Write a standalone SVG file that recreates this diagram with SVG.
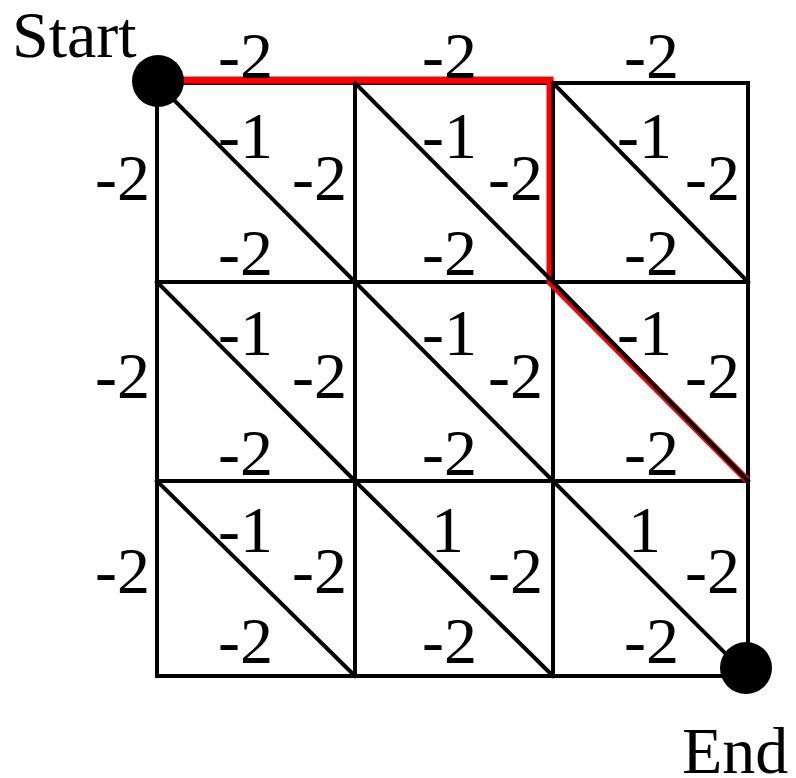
<svg xmlns="http://www.w3.org/2000/svg" width="796" height="778" viewBox="0 0 796 778">
<style>
.g{stroke:#000;stroke-width:4;fill:none;stroke-linecap:square}
.r{stroke:#f00;stroke-width:7;fill:none;stroke-linejoin:miter}
text{font-family:"Liberation Serif","Times New Roman",serif;font-size:66px;fill:#000}
</style>
<rect width="796" height="778" fill="#fff"/>
<g id="connectors">
<g id="grid">
<path class="g" d="M157 83H748V676H157Z M355 83V676 M553 83V676 M157 282H748 M157 481H748"/>
</g>
<polyline id="path" class="r" points="175,80 550,80 550,282 747,480"/>
<g id="diagonals">
<path class="g" d="M157 83L355 282M355 83L553 282M553 83L748 282M157 282L355 481M355 282L553 481M553 282L748 481M157 481L355 676M355 481L553 676M553 481L748 676"/>
<path class="g" d="M553 83V282"/>
</g>
</g>
<g id="start"><circle cx="158" cy="81" r="26"/><text x="12" y="57">Start</text></g>
<g id="end"><circle cx="746" cy="668" r="26"/><text x="682" y="773">End</text></g>
<g id="labels">
<text x="218" y="78">-2</text><text x="422" y="78">-2</text><text x="624" y="78">-2</text>
<text x="95" y="200">-2</text><text x="95" y="398">-2</text><text x="95" y="593">-2</text>
<text x="218" y="158">-1</text><text x="422" y="158">-1</text><text x="617" y="158">-1</text>
<text x="292" y="200">-2</text><text x="488" y="200">-2</text><text x="685" y="200">-2</text>
<text x="218" y="275">-2</text><text x="422" y="275">-2</text><text x="624" y="275">-2</text>
<text x="218" y="355">-1</text><text x="422" y="355">-1</text><text x="617" y="355">-1</text>
<text x="292" y="398">-2</text><text x="488" y="398">-2</text><text x="685" y="398">-2</text>
<text x="218" y="475">-2</text><text x="422" y="475">-2</text><text x="624" y="475">-2</text>
<text x="218" y="552">-1</text><text x="431" y="552">1</text><text x="628" y="552">1</text>
<text x="292" y="593">-2</text><text x="488" y="593">-2</text><text x="685" y="593">-2</text>
<text x="218" y="663">-2</text><text x="422" y="663">-2</text><text x="624" y="663">-2</text>
</g>
</svg>
